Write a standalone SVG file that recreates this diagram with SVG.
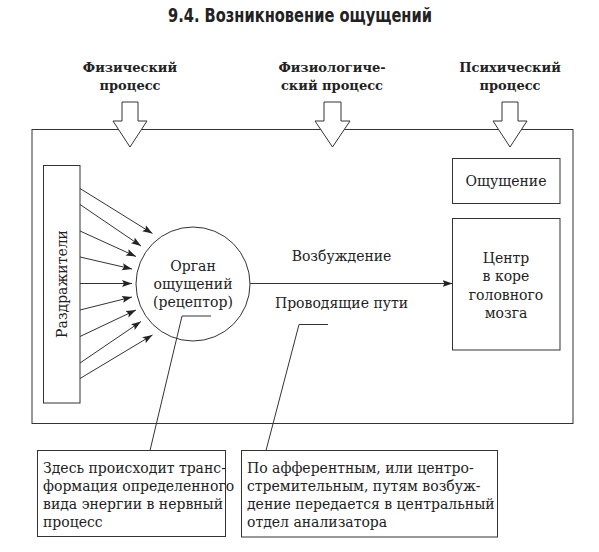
<svg xmlns="http://www.w3.org/2000/svg" width="599" height="552" viewBox="0 0 599 552">
<style>
  .ln{fill:none;stroke:#333;stroke-width:1}
  .bx{fill:#fff;stroke:#333;stroke-width:1}
  .t{font-family:"DejaVu Serif","Liberation Serif",serif;font-size:14px;fill:#222}
  .c{text-anchor:middle}
  .h{font-family:"DejaVu Serif","Liberation Serif",serif;font-size:13px;font-weight:bold;fill:#222;text-anchor:middle}
  .title{font-family:"DejaVu Sans Condensed","Liberation Sans Narrow","Liberation Sans",sans-serif;font-size:19px;font-weight:bold;fill:#222}
</style>
<defs>
  <marker id="ah" markerUnits="userSpaceOnUse" markerWidth="10" markerHeight="8" refX="10" refY="4" orient="auto">
    <path d="M0,0.5 L10,4 L0,7.5 L2,4 z" fill="#222"/>
  </marker>
</defs>
<rect width="599" height="552" fill="#fff"/>
<text class="title" x="168" y="22" textLength="264" lengthAdjust="spacingAndGlyphs">9.4. Возникновение ощущений</text>

<g id="headers">
  <text class="h" x="130" y="72">Физический</text>
  <text class="h" x="130" y="90">процесс</text>
  <text class="h" x="332" y="72">Физиологиче-</text>
  <text class="h" x="332" y="90">ский процесс</text>
  <text class="h" x="510" y="72">Психический</text>
  <text class="h" x="510" y="90">процесс</text>
</g>

<g id="frame">
  <rect class="ln" x="32" y="129.5" width="541" height="294"/>
</g>

<g id="process-arrows">
  <polygon class="bx" points="122,102 138,102 138,121 147,121 130,147 113,121 122,121"/>
  <polygon class="bx" points="324,102 341,102 341,121 350,121 332.5,147 315,121 324,121"/>
  <polygon class="bx" points="502,102 518,102 518,121 527,121 510,147 493,121 502,121"/>
</g>

<g id="stimuli">
  <rect class="bx" x="43.5" y="165.5" width="36.5" height="237.5"/>
  <text class="t c" transform="translate(66.5,284) rotate(-90)">Раздражители</text>
</g>

<g id="receptor">
  <circle class="bx" cx="193" cy="284" r="57"/>
  <text class="t c" x="193" y="271">Орган</text>
  <text class="t c" x="193" y="289">ощущений</text>
  <text class="t c" x="193" y="307">(рецептор)</text>
</g>

<g id="sensation">
  <rect class="bx" x="452.5" y="158.5" width="107.5" height="45"/>
  <text class="t c" x="506" y="186">Ощущение</text>
</g>

<g id="center">
  <rect class="bx" x="452.5" y="218.5" width="107.5" height="131.5"/>
  <text class="t c" x="506" y="263">Центр</text>
  <text class="t c" x="506" y="281">в коре</text>
  <text class="t c" x="506" y="299.5">головного</text>
  <text class="t c" x="506" y="318">мозга</text>
</g>

<g id="pathway-labels">
  <text class="t c" x="341.5" y="261">Возбуждение</text>
  <text class="t c" x="341.5" y="308">Проводящие пути</text>
</g>

<g id="note-left">
  <rect class="bx" x="37.5" y="450.5" width="188" height="86"/>
  <text class="t" x="43" y="473">Здесь происходит транс-</text>
  <text class="t" x="43" y="491">формация определенного</text>
  <text class="t" x="43" y="509">вида энергии в нервный</text>
  <text class="t" x="43" y="527">процесс</text>
</g>

<g id="note-right">
  <rect class="bx" x="241.5" y="450.5" width="256" height="86.5"/>
  <text class="t" x="247" y="473">По афферентным, или центро-</text>
  <text class="t" x="247" y="491">стремительным, путям возбуж-</text>
  <text class="t" x="247" y="509">дение передается в центральный</text>
  <text class="t" x="247" y="527">отдел анализатора</text>
</g>

<g id="connectors">
  <line class="ln" x1="80" y1="188.5" x2="152.5" y2="233.5" marker-end="url(#ah)"/>
  <line class="ln" x1="80" y1="204.5" x2="141" y2="246" marker-end="url(#ah)"/>
  <line class="ln" x1="80" y1="231" x2="136" y2="256.5" marker-end="url(#ah)"/>
  <line class="ln" x1="80" y1="257" x2="132" y2="269" marker-end="url(#ah)"/>
  <line class="ln" x1="80" y1="283.5" x2="132" y2="283.5" marker-end="url(#ah)"/>
  <line class="ln" x1="80" y1="310" x2="132" y2="297" marker-end="url(#ah)"/>
  <line class="ln" x1="80" y1="336.5" x2="136" y2="310" marker-end="url(#ah)"/>
  <line class="ln" x1="80" y1="363" x2="141" y2="321.5" marker-end="url(#ah)"/>
  <line class="ln" x1="80" y1="378.5" x2="152.5" y2="335" marker-end="url(#ah)"/>
  <line class="ln" x1="250" y1="283.5" x2="452.5" y2="283.5" marker-end="url(#ah)"/>
  <polyline class="ln" points="211,316 182,316 150,450.5"/>
  <polyline class="ln" points="328,324.5 299,324.5 266,450.5"/>
</g>
</svg>
